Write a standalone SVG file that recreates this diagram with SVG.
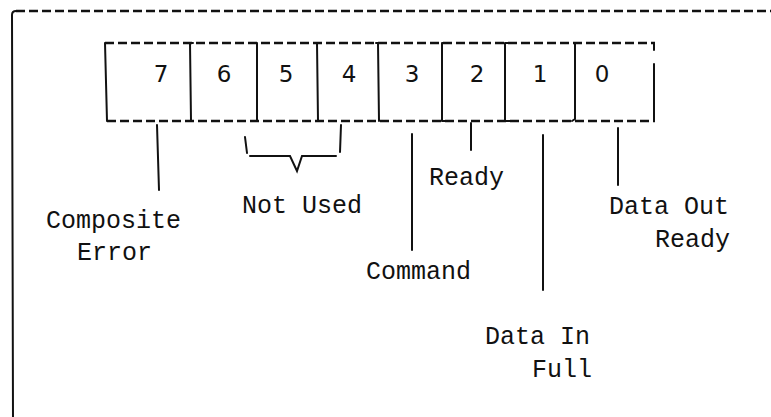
<svg xmlns="http://www.w3.org/2000/svg" width="771" height="417" viewBox="0 0 771 417">
<style>
.ln{stroke:#111;stroke-width:2;fill:none;stroke-linecap:round}
.dash{stroke:#111;stroke-width:2.5;fill:none;stroke-dasharray:9 4}
.t{font-family:"Liberation Mono",monospace;font-size:25px;fill:#111}
.d{font-family:"DejaVu Sans","Liberation Sans",sans-serif;font-size:23px;fill:#111;text-anchor:middle}
</style>
<rect width="771" height="417" fill="#fff"/>
<g id="frame">
<path class="dash" d="M16 11 L771 11"/>
<path class="ln" d="M16 11 Q12 11 12 15 L13 417"/>
</g>
<g id="register">
<path class="dash" d="M105 43 L655 43"/>
<path class="dash" d="M107 121 L655 121"/>
<path class="ln" d="M105 43 L107 121"/>
<path class="ln" d="M654 43 L654 50 M654 64 L654 121"/>
<path class="ln" d="M190 43 L191 121 M187 43 L193 43"/>
<path class="ln" d="M257 43 L257 121"/>
<path class="ln" d="M317 43 L318 121"/>
<path class="ln" d="M378 43 L379 121 M376 43 L382 43"/>
<path class="ln" d="M442 43 L442 121 M442 43 L447 43 M442 121 L447 121"/>
<path class="ln" d="M505 43 L505 121 M505 43 L510 43 M505 121 L510 121"/>
<path class="ln" d="M575 43 L575 119 L572 121"/>
<text class="d" x="161" y="82">7</text>
<text class="d" x="224" y="82">6</text>
<text class="d" x="286" y="82">5</text>
<text class="d" x="349" y="82">4</text>
<text class="d" x="412" y="82">3</text>
<text class="d" x="477" y="82">2</text>
<text class="d" x="540" y="82">1</text>
<text class="d" x="602" y="82">0</text>
</g>
<g id="connectors">
<path class="ln" d="M157 125 L159 190"/>
<path class="ln" d="M245 137 L247 153 M250 156 L290 156 L297 171 L302 156 L336 156 M341 125 L340 152"/>
<path class="ln" d="M412 134 L412 250"/>
<path class="ln" d="M471 123 L471 150"/>
<path class="ln" d="M543 135 L543 290"/>
<path class="ln" d="M618 128 L618 185"/>
</g>
<g id="labels">
<text class="t" x="46" y="228">Composite</text>
<text class="t" x="77" y="260">Error</text>
<text class="t" x="242" y="213">Not Used</text>
<text class="t" x="429" y="185">Ready</text>
<text class="t" x="609" y="214">Data Out</text>
<text class="t" x="655" y="247">Ready</text>
<text class="t" x="366" y="279">Command</text>
<text class="t" x="485" y="344">Data In</text>
<text class="t" x="532" y="377">Full</text>
</g>
</svg>
